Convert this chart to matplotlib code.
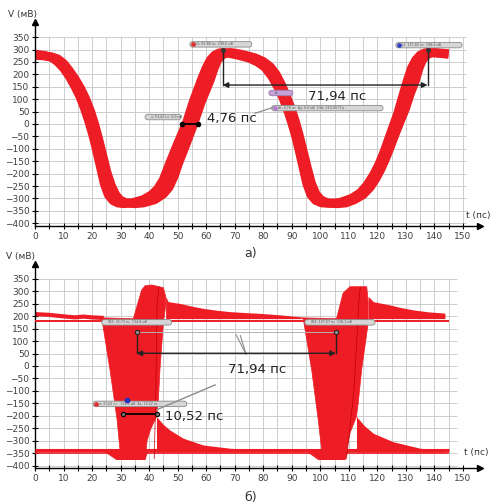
import numpy as np
import matplotlib
matplotlib.use('Agg')
import matplotlib.pyplot as plt
from matplotlib.patches import FancyBboxPatch, Polygon

RED = '#ee1c24'

# ---- panel a): band of traces, early edge / late edge (t in пс, V in мВ)
early_t = [0, 3, 6, 8, 10, 12, 14, 15.8, 17.4, 18.9, 20.3, 21.6, 22.9, 24.3, 25.7, 27.3, 29, 31,
           34, 38, 41, 43, 45, 47.2, 50, 53, 55.5, 58.3, 60, 61.5, 63, 64.5, 66, 68, 71, 75, 78,
           80.5, 83, 85, 86.8, 88.4, 89.9, 91.3, 92.6, 93.9, 95.3, 96.7, 98.4, 100.5, 104, 107,
           111, 114, 116.5, 118.7, 120.5, 122.3, 124, 127.2, 129, 130.6, 132, 133.5, 135, 136.5,
           138, 140, 142.5, 145]
early_v = [281, 277, 268, 250, 226, 193, 152, 110, 62, 10, -45, -105, -170, -240, -285, -308,
           -318, -321, -318, -305, -285, -262, -225, -159, -80, 0, 90, 177, 225, 258, 277, 286,
           288, 285, 278, 266, 250, 230, 193, 152, 110, 62, 10, -45, -105, -170, -240, -285, -308,
           -318, -320, -316, -300, -278, -245, -205, -165, -115, -60, 43, 115, 177, 225, 258, 277,
           286, 289, 287, 284, 281]
late_t = [0, 3, 6, 8, 10, 12, 14, 16, 17.8, 19.5, 21, 22.4, 23.8, 25.2, 26.8, 28.4, 30, 32, 35,
          38, 42, 45, 47, 48.8, 50.3, 53, 55.6, 58.3, 61.4, 62.8, 64, 65.5, 67, 68.5, 70.5, 73, 77,
          80, 82.5, 84.5, 86.3, 88, 89.7, 91.2, 92.6, 94, 95.4, 96.9, 98.5, 100.2, 102.5, 106, 109,
          112, 115, 117.5, 119.4, 121, 122.6, 124.3, 126.1, 128, 129.8, 131.5, 133.4, 134.6, 135.8,
          137.2, 138.6, 140, 142, 145]
late_v = [277, 275, 270, 262, 244, 215, 182, 143, 100, 50, -5, -65, -130, -195, -250, -288, -308,
          -318, -321, -318, -305, -282, -255, -210, -159, -80, 0, 90, 177, 225, 258, 277, 286,
          288, 285, 279, 267, 252, 230, 200, 160, 115, 65, 12, -45, -110, -175, -240, -283, -306,
          -318, -321, -318, -305, -285, -255, -222, -188, -148, -100, -45, 10, 60, 120, 177, 225,
          258, 277, 286, 288, 286, 283]

# ---- panel б): outlines of the two switching regions
p1_t = [23.4, 34.5, 36, 37.4, 38.6, 41, 45, 45.8, 45.9, 45, 43.8, 43.2, 42.6, 40.5, 39.3, 38.6,
        28.5, 29.8, 28.8, 26.3]
p1_v = [193, 190, 250, 305, 322, 325, 314, 280, 250, 171, -16, -150, -203, -255, -300, -375,
        -375, -337, -217, -16]
p2_t = [94, 105.7, 108, 110.4, 116.3, 116.8, 116.8, 114.5, 113.3, 112.7, 110.4, 108.7, 99.3,
        100.5, 99.3, 97]
p2_v = [193, 190, 292, 318, 318, 258, 171, -16, -150, -203, -270, -375, -375, -337, -217, -16]
dip1_t = [24, 28.5, 38.6, 39.5]
dip1_v = [-340, -375, -375, -345]
dip2_t = [95.2, 99.3, 108.7, 109.5]
dip2_v = [-342, -375, -375, -345]

# overshoot / undershoot tails
hi_tail1_t = [45.8, 46.7, 50.8, 55, 59, 63.5, 68.3, 74, 79, 86, 94]
hi_tail1_v = [280, 258, 251, 240, 231, 224, 218, 214, 211, 205, 196]
hi_tail2_t = [116.8, 118.6, 124.4, 128, 132.6, 138, 143.7]
hi_tail2_v = [280, 258, 245, 235, 225, 217, 212]
lo_tail1_t = [42.6, 45, 47.3, 52, 59, 68.3, 79, 95]
lo_tail1_v = [-203, -235, -257, -290, -317, -330, -337, -340]
lo_tail2_t = [112.7, 115.5, 118.6, 125.6, 135, 143.7]
lo_tail2_v = [-203, -240, -270, -304, -330, -337]

hi_start_t = [0, 5, 10, 14, 17, 20, 23.4]
hi_start_v = [208, 205, 199, 195, 198, 195, 193]
hi_flat_v = 182
lo_flat_v = [-336, -348]

xt = np.arange(0, 151, 10)
yt = np.arange(-400, 351, 50)


def setup(ax, grid_right, vgrid_right):
    ax.set_xlim(0, 156)
    ax.set_ylim(-410, 410)
    ax.vlines(np.arange(0, vgrid_right + 1, 5), -400, 350, color='#cdcdcd', lw=0.7, zorder=0)
    ax.hlines(yt, 0, grid_right, color='#cdcdcd', lw=0.7, zorder=0)
    for s in ['top', 'right']:
        ax.spines[s].set_visible(False)
    ax.spines['left'].set_linewidth(1.0)
    ax.spines['bottom'].set_linewidth(1.0)
    ax.set_xticks(xt)
    ax.set_xticks(np.arange(5, 151, 10), minor=True)
    ax.set_yticks(yt)
    ax.tick_params(axis='x', which='both', direction='inout', length=5, width=0.8,
                   labelsize=6.5, labelcolor='#404040', pad=2)
    ax.tick_params(axis='y', direction='inout', length=5, width=0.8,
                   labelsize=6.5, labelcolor='#404040', pad=1.5)
    ax.plot(156, -410, marker='>', ms=5, color='k', clip_on=False, zorder=9)
    ax.plot(0, 410, marker='^', ms=5, color='k', clip_on=False, zorder=9)


def label_box(ax, t0, t1, v, txt, fc='#d6d6d6', ec='#8a8a8a', dot=None):
    h = 22
    box = FancyBboxPatch((t0, v - h / 2), t1 - t0, h,
                         boxstyle='round,pad=0,rounding_size=0.9', mutation_aspect=11.5,
                         fc=fc, ec=ec, lw=0.6, zorder=6)
    ax.add_patch(box)
    ax.text(t0 + 2.2, v, txt, fontsize=2.3, color='#555555', va='center', ha='left', zorder=7)
    if dot:
        ax.plot(t0 + 1.0, v, 'o', ms=2.4, color=dot, zorder=7)


fig = plt.figure(figsize=(4.92, 5.03), dpi=100)
ax1 = fig.add_axes([0.0711, 0.5513, 0.9045, 0.4044])
ax2 = fig.add_axes([0.0711, 0.0692, 0.9045, 0.4064])

# ---------------- panel a)
setup(ax1, 151, 150)
band = np.column_stack([np.concatenate([early_t, late_t[::-1]]),
                        np.concatenate([early_v, late_v[::-1]])])
ax1.add_patch(Polygon(band, closed=True, fc=RED, ec='none', zorder=2))
ax1.plot(early_t, early_v, color=RED, lw=6.5, solid_capstyle='butt', solid_joinstyle='round', zorder=2)
ax1.plot(late_t, late_v, color=RED, lw=6.5, solid_capstyle='butt', solid_joinstyle='round', zorder=2)

label_box(ax1, 38.6, 51.2, 28, 'x: 51,42 пс  0,0 мВ')
ax1.plot([51.4, 57.2], [0, 0], color='k', lw=1.3, zorder=7)
ax1.plot([51.4, 57.2], [0, 0], 'o', ms=3, color='k', zorder=8)
ax1.text(60.3, 24, '4,76 пс', fontsize=9.5, color='#222222', va='center', ha='left', zorder=8)

label_box(ax1, 54.3, 76, 321, 't1: 65,88 пс  298,6 мВ', dot='#e03030')
label_box(ax1, 126.5, 149.7, 318, 't2: 137,82 пс  298,4 мВ', dot='#3040c0')
ax1.plot([65.8, 65.8], [298, 157], color='#222222', lw=1, zorder=7)
ax1.plot([137.6, 137.6], [298, 157], color='#222222', lw=1, zorder=7)
ax1.plot([65.8, 137.6], [298, 298], 'o', ms=2.5, color='#333333', zorder=8)
ax1.annotate('', xy=(65.8, 157), xytext=(137.6, 157),
             arrowprops=dict(arrowstyle='<|-|>', color='#222222', lw=1, mutation_scale=8,
                             shrinkA=0, shrinkB=0), zorder=7)
ax1.text(95.7, 110, '71,94 пс', fontsize=9.5, color='#222222', va='center', ha='left', zorder=8)
label_box(ax1, 82, 90.4, 125, 'Δt', fc='#c4a2d6', ec='#9a7aae')
label_box(ax1, 83, 122, 64, 'Δt: 4,76 пс  Δy: 0,0 мВ  1/Δt: 210,08 ГГц', dot='#b07ad0')
ax1.plot([77.1, 83.5], [43, 67], color='#8c8c8c', lw=0.9, zorder=6)

# ---------------- panel б)
setup(ax2, 148, 145)
ax2.plot(hi_start_t, hi_start_v, color=RED, lw=3, zorder=2)
ax2.hlines(hi_flat_v, 0, 145, color=RED, lw=1.4, zorder=3)
ax2.hlines(lo_flat_v[0], 0, 145, color=RED, lw=2.2, zorder=3)
ax2.hlines(lo_flat_v[1], 0, 145, color=RED, lw=1.2, zorder=3)
for tt, vv in [(p1_t, p1_v), (p2_t, p2_v), (dip1_t, dip1_v), (dip2_t, dip2_v)]:
    ax2.add_patch(Polygon(np.column_stack([tt, vv]), closed=True, fc=RED, ec=RED, lw=0.5, zorder=2))
for tt, vv in [(hi_tail1_t, hi_tail1_v), (hi_tail2_t, hi_tail2_v)]:
    ax2.fill_between(tt, 190, vv, color=RED, lw=0, zorder=2)
for tt, vv in [(lo_tail1_t, lo_tail1_v), (lo_tail2_t, lo_tail2_v)]:
    ax2.fill_between(tt, -345, vv, color=RED, lw=0, zorder=2)
# a few darker single traces inside the switching regions
ax2.plot([41.8, 42.3, 42.8, 43.5], [-372, -150, 250, 318], color='#c00000', lw=0.5, zorder=3)
ax2.plot([109.2, 111.8, 113.5, 114], [-372, -100, 250, 315], color='#c00000', lw=0.5, zorder=3)

label_box(ax2, 23.4, 47.9, 175, 'WX: 35,73 пс  134,8 мВ')
label_box(ax2, 94.6, 119.2, 175, 'WX: 107,67 пс  138,1 мВ')
ax2.plot([35.6, 105.5], [135, 135], color='#b4b4b4', lw=0.7, zorder=6)
ax2.plot([35.6, 35.6], [135, 51], color='#222222', lw=1, zorder=7)
ax2.plot([105.5, 105.5], [138, 51], color='#222222', lw=1, zorder=7)
ax2.plot([35.6, 105.5], [135, 138], 'o', ms=3, mfc='#999999', mec='#222222', mew=0.8, zorder=8)
ax2.annotate('', xy=(35.6, 51), xytext=(105.5, 51),
             arrowprops=dict(arrowstyle='<|-|>', color='#222222', lw=1, mutation_scale=8,
                             shrinkA=0, shrinkB=0), zorder=7)
ax2.plot([70.5, 74], [125, 47], color='#8c8c8c', lw=0.8, zorder=6)
ax2.plot([72, 74], [122, 47], color='#8c8c8c', lw=0.8, zorder=6)
ax2.text(67.5, -15, '71,94 пс', fontsize=9.5, color='#222222', va='center', ha='left', zorder=8)

label_box(ax2, 20.4, 53.2, -152, 'x: 31,02 пс  -194,0 мВ  Δx: 10,52 пс', dot='#e03030')
ax2.plot(32.1, -136, 'o', ms=3.2, color='#2233bb', zorder=8)
ax2.plot([31, 42.6], [-194, -194], color='k', lw=1.3, zorder=7)
ax2.plot([31, 42.6], [-194, -194], 'o', ms=3, mfc='#777777', mec='k', mew=0.8, zorder=8)
ax2.plot([42.6, 63.1], [-176, -76], color='#8c8c8c', lw=1, zorder=6)
ax2.text(45.6, -203, '10,52 пс', fontsize=9.5, color='#222222', va='center', ha='left', zorder=8)

# axis captions and panel letters
fig.text(37 / 492, 1 - 15 / 503, 'V (мВ)', fontsize=6.5, color='#333333', ha='right', va='center')
fig.text(35 / 492, 1 - 257 / 503, 'V (мВ)', fontsize=6.5, color='#333333', ha='right', va='center')
fig.text(490 / 492, 1 - 216 / 503, 't (пс)', fontsize=6.5, color='#333333', ha='right', va='center')
fig.text(489 / 492, 1 - 453 / 503, 't (пс)', fontsize=6.5, color='#333333', ha='right', va='center')
fig.text(251 / 492, 1 - 254 / 503, 'а)', fontsize=9, color='#333333', ha='center', va='center')
fig.text(251 / 492, 1 - 497 / 503, 'б)', fontsize=9, color='#333333', ha='center', va='center')

fig.savefig('out.png', dpi=100)
